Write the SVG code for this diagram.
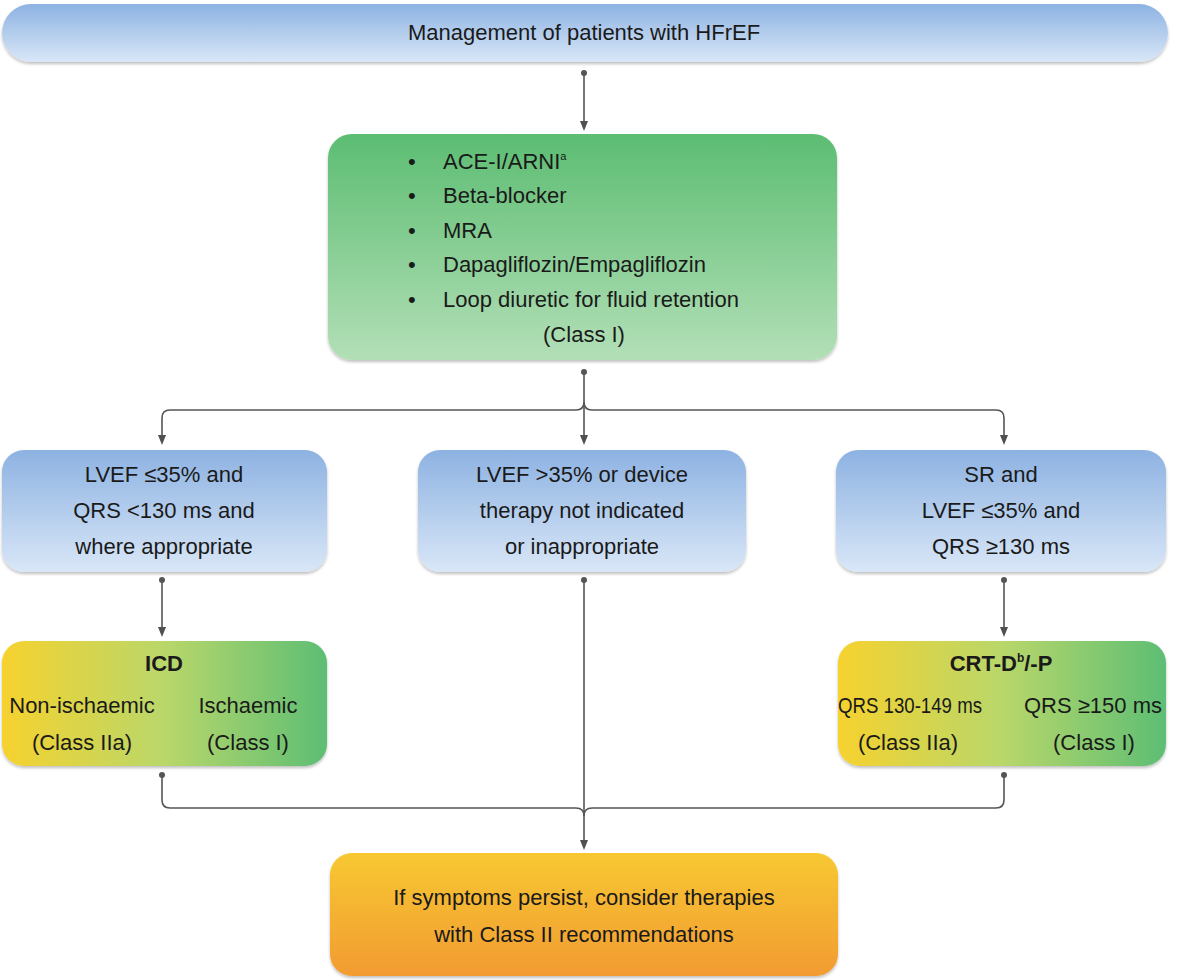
<svg xmlns="http://www.w3.org/2000/svg" width="1183" height="980" viewBox="0 0 1183 980">
<defs>
<linearGradient id="gBlue" x1="0" y1="0" x2="0" y2="1"><stop offset="0" stop-color="#8db2e2"/><stop offset="1" stop-color="#d9e7f7"/></linearGradient>
<linearGradient id="gGreen" x1="0" y1="0" x2="0" y2="1"><stop offset="0" stop-color="#5cbd72"/><stop offset="1" stop-color="#b3dfb7"/></linearGradient>
<linearGradient id="gYG" x1="0" y1="0" x2="1" y2="0"><stop offset="0" stop-color="#f6d22e"/><stop offset="0.5" stop-color="#b9d76a"/><stop offset="1" stop-color="#5dbe74"/></linearGradient>
<linearGradient id="gOrange" x1="0" y1="0" x2="0" y2="1"><stop offset="0" stop-color="#f7c832"/><stop offset="1" stop-color="#f29b31"/></linearGradient>
<filter id="sh" x="-5%" y="-10%" width="110%" height="130%"><feDropShadow dx="0" dy="2" stdDeviation="1.5" flood-color="#000" flood-opacity="0.25"/></filter>
<marker id="arr" markerWidth="10" markerHeight="10" refX="5" refY="5" orient="auto" markerUnits="userSpaceOnUse"><path d="M0,1 L10,5 L0,9 z" fill="#505050"/></marker>
<style>
text{font-family:"Liberation Sans",Arial,sans-serif;font-size:22px;fill:#1a1a1a}
.c{text-anchor:middle}
.b{font-weight:bold}
.ln{fill:none;stroke:#555;stroke-width:1.6}
.dot{fill:#555}
</style>
</defs>
<g id="connectors">
<circle class="dot" cx="584" cy="73" r="3"/>
<path class="ln" d="M584,73 V126" marker-end="url(#arr)"/>
<circle class="dot" cx="584" cy="372" r="3"/>
<path class="ln" d="M584,372 V440" marker-end="url(#arr)"/>
<path class="ln" d="M584,402 Q584,410 576,410 H170 Q162,410 162,418 V440" marker-end="url(#arr)"/>
<path class="ln" d="M584,402 Q584,410 592,410 H996 Q1004,410 1004,418 V440" marker-end="url(#arr)"/>
<circle class="dot" cx="162" cy="580" r="3"/>
<path class="ln" d="M162,580 V632" marker-end="url(#arr)"/>
<circle class="dot" cx="1004" cy="580" r="3"/>
<path class="ln" d="M1004,580 V632" marker-end="url(#arr)"/>
<circle class="dot" cx="584" cy="580" r="3"/>
<path class="ln" d="M584,580 V845" marker-end="url(#arr)"/>
<circle class="dot" cx="162" cy="775" r="3"/>
<circle class="dot" cx="1004" cy="775" r="3"/>
<path class="ln" d="M162,775 V800 Q162,808 170,808 H576 Q584,808 584,816 Q584,808 592,808 H996 Q1004,808 1004,800 V775"/>
</g>
<g id="n-top">
<rect x="2" y="4" width="1166" height="58" rx="29" fill="url(#gBlue)" filter="url(#sh)"/>
<text class="c" x="584" y="40">Management of patients with HFrEF</text>
</g>
<g id="n-meds">
<rect x="328" y="134" width="509" height="226" rx="24" fill="url(#gGreen)" filter="url(#sh)"/>
<text x="408" y="169">•</text><text x="443" y="169">ACE-I/ARNI<tspan font-size="11" dy="-9">a</tspan></text>
<text x="408" y="203">•</text><text x="443" y="203">Beta-blocker</text>
<text x="408" y="238">•</text><text x="443" y="238">MRA</text>
<text x="408" y="272">•</text><text x="443" y="272">Dapagliflozin/Empagliflozin</text>
<text x="408" y="307">•</text><text x="443" y="307">Loop diuretic for fluid retention</text>
<text class="c" x="584" y="342">(Class I)</text>
</g>
<g id="n-left">
<rect x="2" y="450" width="325" height="122" rx="22" fill="url(#gBlue)" filter="url(#sh)"/>
<text class="c" x="164" y="482">LVEF ≤35% and</text>
<text class="c" x="164" y="518">QRS &lt;130 ms and</text>
<text class="c" x="164" y="554">where appropriate</text>
</g>
<g id="n-mid">
<rect x="418" y="450" width="328" height="122" rx="22" fill="url(#gBlue)" filter="url(#sh)"/>
<text class="c" x="582" y="482">LVEF &gt;35% or device</text>
<text class="c" x="582" y="518">therapy not indicated</text>
<text class="c" x="582" y="554">or inappropriate</text>
</g>
<g id="n-right">
<rect x="836" y="450" width="330" height="122" rx="22" fill="url(#gBlue)" filter="url(#sh)"/>
<text class="c" x="1001" y="482">SR and</text>
<text class="c" x="1001" y="518">LVEF ≤35% and</text>
<text class="c" x="1001" y="554">QRS ≥130 ms</text>
</g>
<g id="n-icd">
<rect x="2" y="641" width="325" height="125" rx="22" fill="url(#gYG)" filter="url(#sh)"/>
<text class="c b" x="164" y="671">ICD</text>
<text class="c" x="82" y="713">Non-ischaemic</text>
<text class="c" x="248" y="713">Ischaemic</text>
<text class="c" x="82" y="750">(Class IIa)</text>
<text class="c" x="248" y="750">(Class I)</text>
</g>
<g id="n-crt">
<rect x="838" y="641" width="328" height="125" rx="22" fill="url(#gYG)" filter="url(#sh)"/>
<text class="c b" x="1001" y="671">CRT-D<tspan font-size="12" dy="-9">b</tspan><tspan dy="9">/-P</tspan></text>
<text class="c" x="910" y="713" font-size="20" textLength="144" lengthAdjust="spacingAndGlyphs">QRS 130-149 ms</text>
<text class="c" x="1093" y="713" font-size="20">QRS ≥150 ms</text>
<text class="c" x="908" y="750">(Class IIa)</text>
<text class="c" x="1094" y="750">(Class I)</text>
</g>
<g id="n-bottom">
<rect x="330" y="853" width="508" height="123" rx="22" fill="url(#gOrange)" filter="url(#sh)"/>
<text class="c" x="584" y="905">If symptoms persist, consider therapies</text>
<text class="c" x="584" y="942">with Class II recommendations</text>
</g>
</svg>
